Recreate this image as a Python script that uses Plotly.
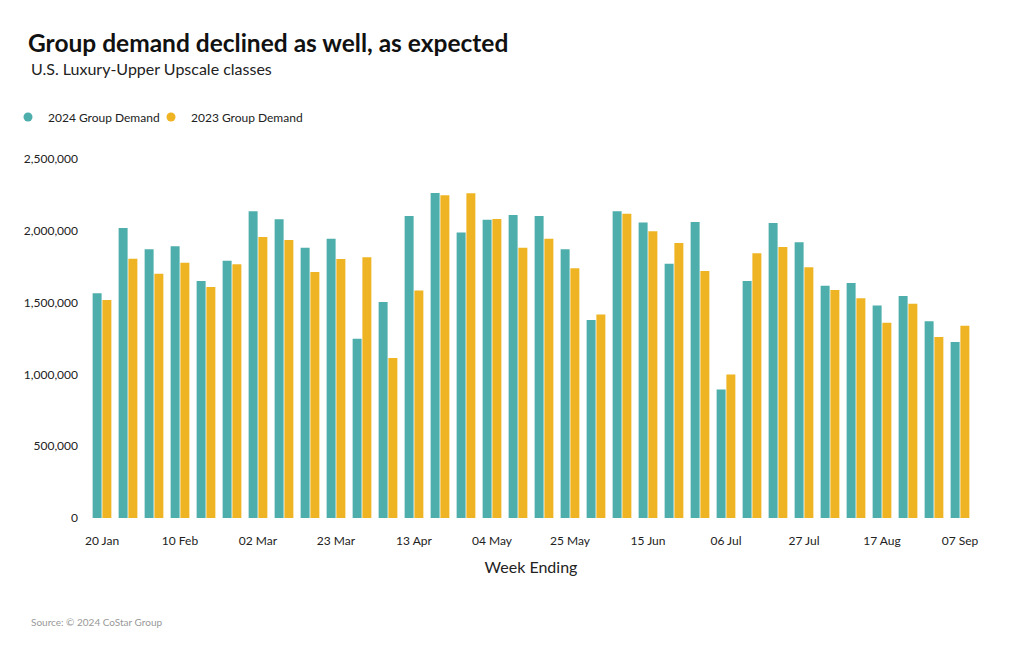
import plotly.graph_objects as go

weeks = ["20 Jan", "27 Jan", "03 Feb", "10 Feb", "17 Feb", "24 Feb", "02 Mar", "09 Mar",
         "16 Mar", "23 Mar", "30 Mar", "06 Apr", "13 Apr", "20 Apr", "27 Apr", "04 May",
         "11 May", "18 May", "25 May", "01 Jun", "08 Jun", "15 Jun", "22 Jun", "29 Jun",
         "06 Jul", "13 Jul", "20 Jul", "27 Jul", "03 Aug", "10 Aug", "17 Aug", "24 Aug",
         "31 Aug", "07 Sep"]

demand_2024 = [1565000, 2019000, 1871000, 1892000, 1650000, 1792000, 2136000, 2080000,
               1882000, 1945000, 1248000, 1504000, 2103000, 2263000, 1989000, 2077000,
               2110000, 2103000, 1871000, 1379000, 2136000, 2057000, 1771000, 2061000,
               894000, 1650000, 2054000, 1920000, 1618000, 1636000, 1479000, 1546000,
               1370000, 1226000]

demand_2023 = [1518000, 1806000, 1701000, 1778000, 1609000, 1767000, 1957000, 1936000,
               1713000, 1803000, 1815000, 1114000, 1585000, 2247000, 2261000, 2082000,
               1882000, 1945000, 1739000, 1418000, 2119000, 1996000, 1915000, 1720000,
               1000000, 1843000, 1887000, 1746000, 1588000, 1530000, 1360000, 1492000,
               1260000, 1339000]

tick_labels = weeks[::3]
y_ticks = [0, 500000, 1000000, 1500000, 2000000, 2500000]

TEAL = "#4DAEAB"
GOLD = "#EEB424"
FONT = "Lato"

fig = go.Figure()
fig.add_trace(go.Bar(x=weeks, y=demand_2024, name="2024 Group Demand",
                     marker=dict(color=TEAL, line=dict(width=0)), showlegend=False))
fig.add_trace(go.Bar(x=weeks, y=demand_2023, name="2023 Group Demand",
                     marker=dict(color=GOLD, line=dict(width=0)), showlegend=False))
# legend entries with round markers
fig.add_trace(go.Scatter(x=[None], y=[None], mode="markers", name="2024 Group Demand",
                         marker=dict(color=TEAL, size=9, symbol="circle"), legend="legend"))
fig.add_trace(go.Scatter(x=[None], y=[None], mode="markers", name="2023 Group Demand",
                         marker=dict(color=GOLD, size=9, symbol="circle"), legend="legend2"))

L, R, T, B = 88.5, 46.5, 159, 132
PW = 1020 - L - R
PH = 650 - T - B

leg_common = dict(orientation="h", xref="container", yref="container",
                  xanchor="left", y=1-117/650, yanchor="middle",
                  font=dict(size=12, color="#222222"), itemwidth=30,
                  bgcolor="rgba(0,0,0,0)")

fig.update_layout(
    width=1020, height=650,
    margin=dict(l=L, r=R, t=T, b=B, autoexpand=False),
    paper_bgcolor="white", plot_bgcolor="white",
    font=dict(family=FONT, color="#222222", size=12),
    barmode="group", bargap=0.25, bargroupgap=0.08,
    title=dict(text="<b>Group demand declined as well, as expected</b>",
               x=28/1020, xanchor="left", xref="container",
               y=1-43/650, yanchor="middle", yref="container",
               font=dict(size=24.5, color="#111111", family=FONT)),
    legend=dict(x=8/1020, **leg_common),
    legend2=dict(x=151/1020, **leg_common),
    xaxis=dict(type="category", tickmode="array", tickvals=tick_labels, ticktext=tick_labels,
               showgrid=False, showline=False, zeroline=False,
               ticks="outside", ticklen=12, tickcolor="rgba(0,0,0,0)",
               tickfont=dict(size=12, color="#222222"),
               title=dict(text="Week Ending", font=dict(size=16, color="#222222"), standoff=14)),
    yaxis=dict(range=[0, 2500000], tickmode="array", tickvals=y_ticks,
               tickformat=",d", showgrid=False, showline=False, zeroline=False,
               ticks="", ticklabelstandoff=10, automargin=False,
               tickfont=dict(size=12, color="#222222")),
)
fig.add_annotation(text="U.S. Luxury-Upper Upscale classes", xref="paper", yref="paper",
                   x=(28-L)/PW, y=(650-B-68)/PH, xanchor="left", yanchor="middle",
                   showarrow=False, font=dict(size=16, color="#222222"))
fig.add_annotation(text="Source: © 2024 CoStar Group", xref="paper", yref="paper",
                   x=(28-L)/PW, y=(650-B-622)/PH, xanchor="left", yanchor="middle",
                   showarrow=False, font=dict(size=10, color="#999999"))

fig.write_html("out.html")
